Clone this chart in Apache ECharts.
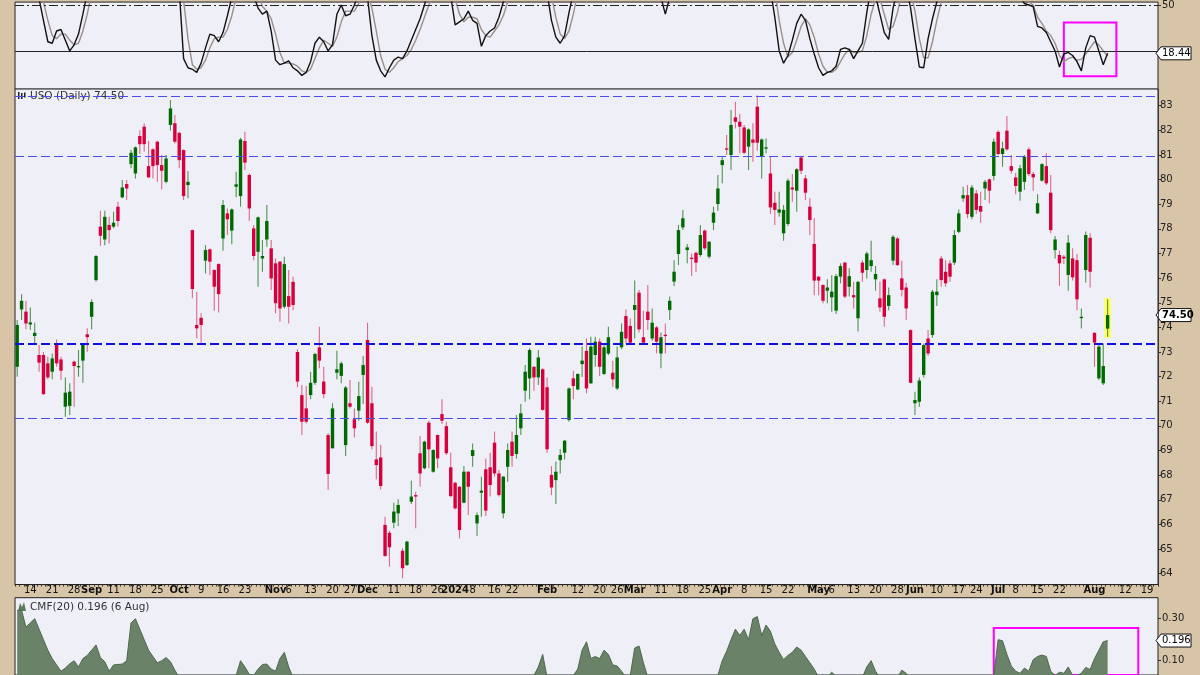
<!DOCTYPE html>
<html>
<head>
<meta charset="utf-8">
<title>USO (Daily)</title>
<script src="https://cdn.jsdelivr.net/npm/echarts/dist/echarts.min.js"></script>
<style>
html,body{margin:0;padding:0;background:#D8C5A7;}
#c{width:1200px;height:675px;}
</style>
</head>
<body>
<div id="c"></div>
<script>
// ---------------- DATA ----------------
const firstDay = '2023-08-09';
const lastDay = '2024-08-21';   // axis runs into the future (empty)
const holidays = ['2023-09-04','2023-11-23','2023-12-25','2024-01-01','2024-01-15',
  '2024-02-19','2024-03-29','2024-05-27','2024-06-19','2024-07-04'];

const open = [
72.40,74.73,74.64,74.12,73.65,72.88,72.88,72.54,72.20,73.35,
72.70,70.78,70.81,72.61,72.38,72.65,73.72,74.43,75.92,78.09,
77.57,78.16,78.09,78.90,79.28,79.82,80.63,80.25,81.77,82.15,
80.55,81.23,81.54,80.59,79.91,82.22,82.29,81.90,81.20,79.78,
77.95,74.10,74.39,76.71,77.17,76.33,76.57,77.61,78.63,77.93,
79.71,79.33,81.57,80.19,78.02,77.07,76.80,77.57,77.21,76.60,
76.67,74.84,75.27,75.85,73.00,71.25,70.71,71.25,71.75,73.19,
71.80,69.63,69.09,72.16,72.03,69.22,70.92,70.27,70.62,72.07,
73.49,70.92,68.64,68.72,65.98,65.66,66.07,66.45,64.93,64.35,
66.92,67.19,68.89,68.28,70.13,68.14,69.63,70.48,69.99,68.32,
67.69,67.53,66.88,68.14,68.78,66.04,67.29,68.24,68.32,69.32,
68.07,66.45,68.34,69.36,68.86,69.90,71.43,71.93,72.40,71.97,
72.30,71.57,68.01,67.80,68.61,68.91,70.24,71.93,71.48,72.51,
73.05,71.73,72.88,73.42,72.11,72.94,72.16,71.52,73.19,74.46,
74.06,74.71,75.41,73.60,74.64,73.55,74.00,72.94,73.70,74.71,
75.86,76.98,78.06,77.14,76.83,77.03,76.94,77.93,76.87,78.25,
79.01,80.59,81.27,81.00,82.53,82.35,82.12,81.34,81.63,82.96,
80.93,81.26,80.25,79.06,78.66,77.82,78.20,79.68,79.55,80.90,
80.05,78.90,77.39,76.06,75.72,75.49,75.22,74.68,76.06,76.63,
75.65,75.31,74.37,76.63,76.33,76.49,75.95,75.18,75.95,74.87,
76.71,77.61,75.99,75.62,73.89,70.92,70.98,72.07,73.55,73.69,
75.31,76.80,76.26,76.60,76.63,77.88,79.24,79.37,78.49,79.44,
78.93,79.64,80.01,80.15,81.94,81.04,81.99,80.55,80.09,79.51,
79.91,81.23,80.23,78.63,79.96,80.55,79.47,77.14,76.94,76.87,
76.13,76.80,76.73,74.41,76.33,77.64,73.78,71.93,71.73,73.95];

const close = [
74.10,75.08,74.16,74.20,73.78,72.57,71.29,71.97,72.74,72.54,
72.24,71.35,71.39,72.43,72.43,73.32,73.60,75.03,76.90,77.72,
78.49,77.95,78.25,78.32,79.68,79.64,81.09,81.31,81.44,81.44,
80.09,80.55,80.59,80.36,80.86,82.89,81.54,80.79,79.33,79.91,
75.56,73.96,74.10,77.14,76.67,75.65,75.35,78.97,78.39,78.79,
79.81,81.63,80.69,78.83,76.90,78.47,76.90,78.32,75.99,74.98,
74.77,76.57,74.84,74.91,71.80,70.17,70.17,71.75,72.92,72.65,
71.29,68.05,70.71,72.30,72.54,71.56,70.78,69.90,71.21,72.47,
70.13,69.18,68.41,67.56,64.72,65.07,66.52,66.79,64.22,65.30,
67.13,67.13,68.07,69.36,69.05,69.02,68.68,70.21,68.89,67.15,
66.65,65.77,68.14,67.53,69.02,66.38,67.37,66.56,67.60,68.07,
67.19,67.94,69.02,68.78,69.63,70.51,72.20,73.08,71.97,72.78,
70.65,69.05,67.50,68.14,68.82,69.40,71.52,71.62,72.11,72.65,
71.52,73.22,73.42,72.40,73.19,73.60,71.89,72.78,73.82,73.55,
73.38,74.91,73.92,73.38,74.30,74.19,73.42,73.60,73.65,75.08,
76.26,77.95,78.43,77.25,76.78,76.63,77.75,77.21,77.48,78.66,
79.64,80.79,81.23,82.22,82.35,82.15,81.09,82.04,81.50,81.50,
81.63,81.31,78.87,78.77,78.79,78.77,79.96,79.60,80.42,80.36,
79.47,78.36,75.90,75.90,75.08,75.62,75.45,76.08,76.49,75.25,
76.08,75.22,75.85,76.22,77.00,76.73,76.17,74.81,74.43,75.31,
77.68,76.53,75.52,74.77,71.75,71.05,71.84,73.28,72.94,75.45,
75.45,75.92,75.79,76.06,77.75,78.63,79.37,78.60,79.68,78.77,
78.70,79.91,79.55,81.54,81.04,81.27,81.23,80.36,79.74,80.46,
80.93,80.23,80.09,79.04,80.63,79.85,77.95,77.57,76.60,76.80,
77.44,76.03,75.14,74.43,77.75,76.26,73.38,73.22,72.43,74.50];

const low = [
72.00,74.30,73.92,73.89,73.35,72.20,71.25,71.89,71.89,72.40,
71.86,70.37,70.44,70.78,72.00,71.75,73.01,73.92,75.85,77.32,
77.34,77.41,78.02,78.09,79.24,79.17,80.46,80.05,81.04,81.13,
80.09,80.05,79.91,79.60,79.85,81.99,81.47,80.46,79.17,79.24,
75.18,73.55,73.35,76.19,76.13,74.68,74.60,77.11,77.75,77.38,
79.28,78.90,80.39,78.33,76.73,75.65,76.26,77.27,75.52,74.57,
74.23,74.77,74.16,74.70,71.57,69.63,70.10,71.08,71.66,72.34,
71.12,67.40,69.09,71.89,71.73,68.78,70.71,69.53,70.21,70.89,
70.08,69.05,67.83,67.42,64.69,64.28,65.84,65.93,63.81,64.31,
66.83,65.84,67.53,68.24,68.28,68.10,68.28,70.08,68.82,67.10,
66.61,65.43,66.86,66.38,68.34,65.53,66.31,66.34,67.13,67.94,
67.13,66.25,67.73,68.34,68.68,69.63,70.98,71.08,71.43,71.66,
70.62,68.91,67.19,66.83,68.07,68.64,70.17,71.08,71.46,71.99,
71.32,71.70,72.40,72.03,72.07,72.88,71.59,71.46,73.11,73.35,
73.35,73.55,73.79,73.29,73.89,73.46,72.94,72.34,72.94,74.30,
75.68,76.53,77.95,76.60,76.09,76.26,76.87,77.14,76.80,77.95,
78.74,79.85,81.00,80.39,82.08,81.07,81.04,80.39,80.73,81.17,
80.05,81.07,78.60,78.16,78.49,77.52,78.12,79.10,78.70,80.23,
79.17,77.75,75.31,75.31,74.98,74.98,74.64,74.54,75.79,75.18,
75.25,74.77,73.83,75.85,75.99,76.26,75.49,74.64,74.03,74.70,
76.53,76.49,75.25,74.30,71.73,70.44,70.78,71.97,72.84,73.58,
74.87,75.65,75.65,75.85,76.53,77.82,79.10,78.43,78.39,78.60,
78.25,79.17,79.04,79.96,80.99,80.52,81.17,80.25,79.41,79.14,
79.58,80.15,79.55,78.60,79.91,79.78,77.82,76.80,75.68,76.57,
75.49,75.90,74.70,73.96,75.82,75.62,72.40,71.86,71.66,73.62];

const high = [
74.30,75.35,75.08,74.81,74.19,73.28,73.00,72.81,72.94,73.51,
72.81,71.97,71.73,72.65,73.08,73.35,73.97,75.14,76.94,78.74,
78.74,78.49,78.70,79.09,79.98,79.98,81.20,81.35,82.01,82.29,
81.58,81.27,81.58,81.00,81.00,83.23,82.62,81.94,81.23,80.35,
77.98,75.45,74.57,77.34,77.20,76.36,76.60,79.17,78.83,78.83,
80.32,81.70,81.94,80.25,78.16,78.50,77.55,78.97,77.55,76.80,
76.70,76.87,76.33,76.06,73.11,71.66,71.62,72.20,72.97,74.03,
72.40,69.70,70.92,73.05,72.61,71.62,71.86,70.71,71.79,72.84,
74.19,71.59,69.77,69.22,66.31,65.74,66.88,67.02,65.03,65.34,
67.77,67.33,69.59,69.40,70.21,69.05,69.65,71.08,70.17,68.91,
67.73,67.55,68.37,68.16,69.29,66.48,67.94,68.68,68.91,69.77,
68.21,67.96,69.29,69.77,70.44,70.89,72.47,73.15,72.42,73.08,
72.34,71.97,68.37,68.55,69.05,69.43,71.56,72.24,72.13,73.22,
73.55,73.62,73.62,73.55,73.28,74.03,72.65,73.22,74.16,74.73,
74.37,75.90,75.52,74.68,75.72,74.77,74.06,73.79,74.16,75.25,
76.73,78.16,78.77,77.39,77.00,77.07,78.16,77.98,77.50,78.90,
80.19,80.93,81.81,82.83,83.16,82.66,82.22,82.08,82.29,83.43,
81.67,81.67,80.93,79.51,79.51,78.97,80.05,80.23,80.46,80.93,
80.19,79.24,78.43,76.08,75.75,75.95,76.12,76.17,76.60,76.67,
76.40,75.85,75.88,76.73,77.07,77.52,76.49,75.85,75.99,75.62,
77.75,77.68,76.71,75.81,73.92,71.39,71.97,73.35,73.89,75.52,
75.95,76.90,76.73,76.73,77.95,78.79,79.71,79.78,79.78,79.58,
79.51,79.98,80.05,81.67,82.01,81.54,82.58,81.00,80.28,80.59,
81.00,81.31,80.32,79.41,80.66,81.07,80.19,77.71,77.11,76.94,
77.75,77.21,76.98,74.77,77.89,77.82,73.80,73.35,73.35,75.14];

// Slow stochastic (%K black, %D grey)
const stochK = [
75,82,78,70,62,54,40,26,25,33, 34,27,20,24,31,44,58,72,85,92,
94,93,92,90,92,93,95,96,94,92, 80,78,74,70,76,90,85,60,15,9,
8,6,12,22,31,30,26,32,43,55, 68,85,80,70,56,48,44,46,33,14,
11,12,13.5,9,7,4,6,13,25,29, 26,20,24,44,50,43,44,50,58,60,
55,30,14,7,3,9,14,16,15,20, 27,34,41,50,60,68,72,75,70,56,
37,39,41,46,40,38,23,30,33,35, 42,52,62,68,75,82,88,92,85,80,
70,58,40,29,25,30,45,58,70,72, 68,75,78,72,76,80,68,72,82,80,
78,85,76,70,75,72,65,55,44,55, 72,85,90,86,82,80,84,82,80,86,
92,95,94,95,96,92,85,86,84,82, 80,78,60,42,20,12,17,27,38,44,
40,28,18,9,4,6,7,10,21,22, 21,15,20,25,45,62,56,44,32,27.5,
48,60,66,62,48,28,9.5,9,28,41, 52,62,66,70,78,86,92,88,90,86,
84,88,90,94,92,90,88,75,65,55, 51,50,49,36,35,32,26,20,9.5,18,
19,17,13,7,22,30,29,20,11,18.44];

const stochD = [
70,74,78,77,70,62,52,40,30,28, 31,31,27,24,25,33,44,58,72,83,
90,93,93,92,91,92,93,95,95,94, 89,83,77,74,73,79,84,78,53,28,
11,8,9,14,22,28,29,29,34,43, 55,69,78,78,69,58,49,46,41,31,
19,12,12,11.5,10,7,6,8,15,22, 27,25,23,29,39,46,46,46,51,56,
58,48,33,17,8,6,9,13,15,17, 21,27,34,42,50,59,67,72,72,67,
54,44,39,42,42,41,34,30,29,33, 37,43,52,61,68,75,82,87,88,86,
78,69,56,42,31,28,33,44,58,67, 70,72,74,75,75,76,75,73,74,78,
80,81,80,77,74,72,71,64,55,51, 57,71,82,87,86,83,82,82,82,83,
86,91,94,95,95,94,91,88,85,84, 82,80,73,60,40,25,16,19,27,36,
41,37,29,18,10,6,6,8,13,18, 21,19,19,20,30,44,54,54,44,34,
36,45,58,63,59,46,28,15.5,15.5,26, 40,52,60,66,71,78,85,89,90,88,
87,86,87,91,92,92,90,84,76,65, 57,52,50,42,38,33,30,25,17,13,
15,16,14,14.5,18,22,26,24,20,16.8];

// Chaikin Money Flow (20)
const cmf = [
0.34,0.34,0.26,0.28,0.30,0.25,0.20,0.15,0.11,0.08,
0.05,0.065,0.085,0.10,0.07,0.11,0.125,0.15,0.175,0.115,
0.095,0.05,0.08,0.082,0.084,0.10,0.28,0.30,0.25,0.20,
0.15,0.12,0.09,0.10,0.115,0.095,0.055,0.02,-0.01,-0.03,
-0.06,-0.08,-0.07,-0.05,-0.04,-0.05,-0.03,-0.01,0.0,0.01,
0.03,0.10,0.07,0.035,0.03,0.06,0.082,0.084,0.06,0.05,
0.11,0.14,0.07,0.02,-0.02,-0.05,-0.07,-0.06,-0.05,-0.06,
-0.08,-0.10,-0.09,-0.08,-0.07,-0.08,-0.09,-0.10,-0.08,-0.07,
-0.09,-0.11,-0.12,-0.13,-0.15,-0.16,-0.15,-0.14,-0.16,-0.15,
-0.13,-0.12,-0.10,-0.09,-0.10,-0.08,-0.09,-0.07,-0.08,-0.10,
-0.12,-0.13,-0.11,-0.12,-0.10,-0.12,-0.11,-0.12,-0.10,-0.09,
-0.10,-0.08,-0.06,-0.05,-0.03,-0.02,0.0,0.01,0.03,0.07,
0.13,0.02,-0.03,-0.05,-0.04,-0.02,0.01,0.03,0.06,0.15,
0.19,0.11,0.12,0.11,0.15,0.13,0.08,0.075,0.05,0.02,
0.03,0.16,0.17,0.09,0.02,-0.02,-0.04,-0.05,-0.04,-0.05,
-0.06,-0.05,-0.04,-0.05,-0.06,-0.05,-0.04,-0.03,-0.02,0.0,
0.03,0.10,0.145,0.20,0.25,0.22,0.25,0.20,0.30,0.31,
0.22,0.27,0.24,0.18,0.14,0.105,0.125,0.14,0.165,0.15,
0.12,0.09,0.06,0.02,0.0,0.02,0.045,0.025,0.0,-0.02,
-0.03,-0.02,0.0,0.02,0.07,0.10,0.05,0.02,-0.01,-0.02,
0.0,0.02,0.055,0.04,0.0,-0.04,-0.06,-0.05,-0.04,-0.03,
-0.03,-0.04,-0.03,-0.02,-0.03,-0.02,-0.01,-0.02,-0.01,-0.02,
-0.01,0.0,0.01,0.03,0.20,0.195,0.13,0.075,0.05,0.04,
0.065,0.05,0.105,0.12,0.127,0.12,0.05,0.03,0.045,0.04,
0.07,0.03,0.03,0.04,0.068,0.058,0.11,0.15,0.19,0.196];

// Horizontal support / resistance levels drawn on the price panel
const thinLevels = [83.37, 80.93, 70.33];
const thickLevels = [73.34];

// Visible value windows of the three panels (the top and bottom panels are cropped)
const stochRange = [-5, 51.9];
const priceRange = [63.56, 83.68];
const cmfRange = [0.0319, 0.4];

// Axis tick values
const priceTicks = [64,65,66,67,68,69,70,71,72,73,74,75,76,77,78,79,80,81,82,83];
const stochTicks = [50];
const cmfTicks = [0.1, 0.3];

// Date-axis labels (date -> text)
const dateLabels = [
 ['2023-08-14','14'],['2023-08-21','21'],['2023-08-28','28'],['2023-09-01','Sep'],
 ['2023-09-11','11'],['2023-09-18','18'],['2023-09-25','25'],['2023-10-02','Oct'],
 ['2023-10-09','9'],['2023-10-16','16'],['2023-10-23','23'],['2023-11-01','Nov'],
 ['2023-11-06','6'],['2023-11-13','13'],['2023-11-20','20'],['2023-11-27','27'],
 ['2023-12-01','Dec'],['2023-12-11','11'],['2023-12-18','18'],['2023-12-26','26'],
 ['2024-01-02','2024'],['2024-01-08','8'],['2024-01-16','16'],['2024-01-22','22'],
 ['2024-02-01','Feb'],['2024-02-12','12'],['2024-02-20','20'],['2024-02-26','26'],
 ['2024-03-01','Mar'],['2024-03-11','11'],['2024-03-18','18'],['2024-03-25','25'],
 ['2024-04-01','Apr'],['2024-04-08','8'],['2024-04-15','15'],['2024-04-22','22'],
 ['2024-05-01','May'],['2024-05-06','6'],['2024-05-13','13'],['2024-05-20','20'],
 ['2024-05-28','28'],['2024-06-03','Jun'],['2024-06-10','10'],['2024-06-17','17'],
 ['2024-06-24','24'],['2024-07-01','Jul'],['2024-07-08','8'],['2024-07-15','15'],
 ['2024-07-22','22'],['2024-08-01','Aug'],['2024-08-12','12'],['2024-08-19','19']];

// Box annotations [fromDate, toDate, fromValue, toValue]
const stochBox = ['2024-07-23','2024-08-08', 38.5, 3.4];
const cmfBox = ['2024-06-28','2024-08-15', 0.256, -0.1];

// ---------------- BUILD ----------------
function tradingDays(a, b) {
  const out = [];
  let t = Date.parse(a + 'T00:00:00Z');
  const e = Date.parse(b + 'T00:00:00Z');
  while (t <= e) {
    const d = new Date(t);
    const wd = d.getUTCDay();
    const s = d.toISOString().slice(0, 10);
    if (wd !== 0 && wd !== 6 && holidays.indexOf(s) < 0) out.push(s);
    t += 86400000;
  }
  return out;
}
const dates = tradingDays(firstDay, lastDay);
const labelMap = new Map(dateLabels);
const boldLabels = new Set(['Sep','Oct','Nov','Dec','2024','Feb','Mar','Apr','May','Jun','Jul','Aug']);

const candleRows = open.map((o, i) => [i, o, close[i], low[i], high[i]]);
const lastIdx = open.length - 1;

const FRAME = '#D8C5A7';
const PLOT = '#EEEFF7';
const UP = '#006A00', UP_WICK = '#4F944F';
const DOWN = '#D6003C', DOWN_WICK = '#E0678A';
const FONT = 'DejaVu Sans';

const chart = echarts.init(document.getElementById('c'), null, {renderer: 'canvas', width: 1200, height: 675});

const option = {
  animation: false,
  backgroundColor: FRAME,
  grid: [
    {left: 15, right: 42, top: 0, height: 89.2, show: true, backgroundColor: PLOT, borderColor: '#222', borderWidth: 1},
    {left: 15, right: 42, top: 89, height: 495.5, show: true, backgroundColor: PLOT, borderColor: '#222', borderWidth: 1},
    {left: 15, right: 42, top: 597.7, height: 77.3, show: true, backgroundColor: PLOT, borderColor: '#222', borderWidth: 1}
  ],
  xAxis: [
    {gridIndex: 0, type: 'category', data: dates, boundaryGap: true, show: false},
    {gridIndex: 1, type: 'category', data: dates, boundaryGap: true,
      axisLine: {show: true, lineStyle: {color: '#222', width: 1}},
      axisTick: {show: true, interval: 0, length: 2, lineStyle: {color: '#333', width: 1}},
      axisLabel: {
        show: true, margin: 1, fontSize: 10, fontFamily: FONT, color: '#111',
        interval: (idx, val) => labelMap.has(val),
        formatter: (val) => {
          const t = labelMap.get(val) || '';
          return boldLabels.has(t) ? '{b|' + t + '}' : t;
        },
        rich: {b: {fontWeight: 'bold', fontSize: 10, fontFamily: FONT, color: '#111'}}
      },
      splitLine: {show: false}
    },
    {gridIndex: 2, type: 'category', data: dates, boundaryGap: true, show: false}
  ],
  yAxis: [
    {gridIndex: 0, type: 'value', position: 'right', min: stochRange[0], max: stochRange[1],
      splitLine: {show: false}, axisLine: {show: false},
      axisTick: {show: true, length: 3, customValues: stochTicks, lineStyle: {color: '#333'}},
      axisLabel: {show: true, customValues: stochTicks, margin: 4, fontSize: 10, fontFamily: FONT, color: '#222'}},
    {gridIndex: 1, type: 'value', position: 'right', min: priceRange[0], max: priceRange[1],
      splitLine: {show: false},
      axisLine: {show: true, lineStyle: {color: '#333', type: 'dotted'}},
      axisTick: {show: true, length: 3, customValues: priceTicks, lineStyle: {color: '#333'}},
      axisLabel: {show: true, customValues: priceTicks, margin: 2, fontSize: 10, fontFamily: FONT, color: '#222'}},
    {gridIndex: 2, type: 'value', position: 'right', min: cmfRange[0], max: cmfRange[1],
      splitLine: {show: false}, axisLine: {show: false},
      axisTick: {show: true, length: 3, customValues: cmfTicks, lineStyle: {color: '#333'}},
      axisLabel: {show: true, customValues: cmfTicks, margin: 4, fontSize: 10, fontFamily: FONT, color: '#222',
        formatter: (v) => v.toFixed(2)}}
  ],
  series: [
    // stochastic
    {type: 'line', name: '%D', xAxisIndex: 0, yAxisIndex: 0, data: stochD, symbol: 'none',
      lineStyle: {color: '#9A8E8C', width: 1.4}, clip: true, z: 3},
    {type: 'line', name: '%K', xAxisIndex: 0, yAxisIndex: 0, data: stochK, symbol: 'none',
      lineStyle: {color: '#111', width: 1.4}, clip: true, z: 4,
      markLine: {silent: true, symbol: 'none', label: {show: false}, animation: false,
        data: [
          {yAxis: 50, lineStyle: {color: '#222', width: 1, type: [9, 3, 2, 3]}},
          {yAxis: 20, lineStyle: {color: '#222', width: 1, type: 'solid'}}
        ]},
      markArea: {silent: true, itemStyle: {color: 'rgba(0,0,0,0)', borderColor: '#FF00FF', borderWidth: 2},
        data: [[{xAxis: stochBox[0], yAxis: stochBox[2]}, {xAxis: stochBox[1], yAxis: stochBox[3]}]]}
    },
    // level lines on the price panel
    {type: 'line', name: 'levels', xAxisIndex: 1, yAxisIndex: 1, data: [], z: 2,
      markLine: {silent: true, symbol: 'none', label: {show: false}, animation: false,
        data: thinLevels.map(v => ({yAxis: v, lineStyle: {color: '#4B4BF0', width: 1, type: [9, 4]}}))
          .concat(thickLevels.map(v => ({yAxis: v, lineStyle: {color: '#1010E0', width: 2, type: [9, 4]}})))
      }
    },
    // highlight behind last candle
    {type: 'custom', xAxisIndex: 1, yAxisIndex: 1, z: 1,
      data: [[lastIdx, low[lastIdx], high[lastIdx]]],
      encode: {x: 0, y: [1, 2]},
      renderItem: function (params, api) {
        const x = api.value(0);
        const p1 = api.coord([x, api.value(1)]);
        const p2 = api.coord([x, api.value(2)]);
        const w = api.size([1, 0])[0] * 1.45;
        return {type: 'rect', shape: {x: p1[0] - w / 2, y: p2[1] - 1, width: w, height: p1[1] - p2[1] + 2},
          style: {fill: '#FFFF50'}};
      }
    },
    // price candles: light wick + solid body
    {type: 'custom', name: 'USO', xAxisIndex: 1, yAxisIndex: 1, z: 3,
      data: candleRows,
      encode: {x: 0, y: [1, 2, 3, 4]},
      renderItem: function (params, api) {
        const i = api.value(0), o = api.value(1), c = api.value(2), l = api.value(3), h = api.value(4);
        const pO = api.coord([i, o]), pC = api.coord([i, c]);
        const pL = api.coord([i, l]), pH = api.coord([i, h]);
        const up = c >= o;
        const w = 3.4;
        const top = Math.min(pO[1], pC[1]);
        const hgt = Math.max(Math.abs(pO[1] - pC[1]), 1.3);
        return {type: 'group', children: [
          {type: 'line', shape: {x1: pO[0], y1: pH[1], x2: pO[0], y2: pL[1]},
            style: {stroke: up ? UP_WICK : DOWN_WICK, lineWidth: 1.1}},
          {type: 'rect', shape: {x: pO[0] - w / 2, y: top, width: w, height: hgt},
            style: {fill: up ? UP : DOWN}}
        ]};
      }
    },
    // CMF
    {type: 'line', name: 'CMF', xAxisIndex: 2, yAxisIndex: 2, data: cmf, symbol: 'none',
      lineStyle: {color: '#4E684D', width: 1}, areaStyle: {color: '#6A8368', opacity: 1, origin: 'start'}, clip: true,
      markArea: {silent: true, itemStyle: {color: 'rgba(0,0,0,0)', borderColor: '#FF00FF', borderWidth: 2},
        data: [[{xAxis: cmfBox[0], yAxis: cmfBox[2]}, {xAxis: cmfBox[1], yAxis: cmfBox[3]}]]}
    }
  ]
};
chart.setOption(option);

// value tags on the right axes, positioned through the chart's own scales
function tag(yPix, text, bold) {
  const x0 = 1158;
  return {
    type: 'group', z: 100, children: [
      {type: 'polygon', shape: {points: [[x0 - 2, yPix], [x0 + 3, yPix - 6.5], [x0 + 33, yPix - 6.5], [x0 + 33, yPix + 6.5], [x0 + 3, yPix + 6.5]]},
        style: {fill: '#fff', stroke: '#111', lineWidth: 1}},
      {type: 'text', style: {x: x0 + 4, y: yPix, text: text, fill: '#000', font: (bold ? 'bold ' : '') + '10px "DejaVu Sans"', verticalAlign: 'middle', align: 'left'}}
    ]
  };
}
const lastClose = close[lastIdx];
const yPrice = chart.convertToPixel({yAxisIndex: 1}, lastClose);
const yStoch = chart.convertToPixel({yAxisIndex: 0}, stochK[lastIdx]);
const yCmf = chart.convertToPixel({yAxisIndex: 2}, cmf[lastIdx]);

chart.setOption({
  graphic: [
    {type: 'group', z: 100, children: [
      {type: 'rect', shape: {x: 18, y: 92, width: 1.5, height: 7}, style: {fill: '#222'}},
      {type: 'rect', shape: {x: 21, y: 93, width: 1.5, height: 6}, style: {fill: '#222'}},
      {type: 'rect', shape: {x: 24, y: 92.5, width: 1.5, height: 5}, style: {fill: '#222'}},
      {type: 'text', style: {x: 30, y: 96.5, text: 'USO (Daily) ' + lastClose.toFixed(2), fill: '#333',
        font: '10.5px "DejaVu Sans"', verticalAlign: 'middle', align: 'left'}}
    ]},
    {type: 'group', z: 100, children: [
      {type: 'polygon', shape: {points: [[18, 611], [20, 603], [22, 607], [24, 602], [26, 611]]}, style: {fill: '#5E7A5C'}},
      {type: 'text', style: {x: 30, y: 607, text: 'CMF(20) ' + cmf[lastIdx].toFixed(3) + ' (6 Aug)', fill: '#333',
        font: '10.5px "DejaVu Sans"', verticalAlign: 'middle', align: 'left'}}
    ]},
    tag(yPrice, lastClose.toFixed(2), true),
    tag(yStoch, stochK[lastIdx].toFixed(2), false),
    tag(yCmf, cmf[lastIdx].toFixed(3), false)
  ]
});
</script>
</body>
</html>
